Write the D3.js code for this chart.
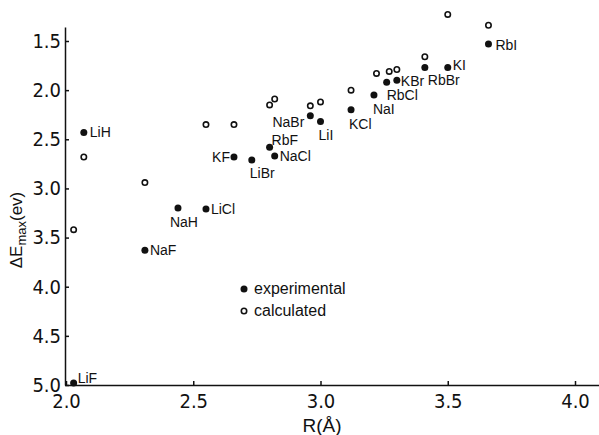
<!DOCTYPE html>
<html>
<head>
<meta charset="utf-8">
<script src="https://cdn.jsdelivr.net/npm/d3@7"></script>
<style>
  body { margin: 0; background: #fff; }
  svg text { fill: #111; }
</style>
</head>
<body>
<div id="chart"></div>
<script>
const width = 599;
const height = 435;

// experimental values: salt name, R (Å), ΔEmax (eV)
const expNames = ["LiF", "LiH", "NaF", "NaH", "LiCl", "KF", "LiBr", "RbF", "NaCl", "NaBr", "LiI", "KCl", "NaI", "RbCl", "KBr", "RbBr", "KI", "RbI"];
const expR = [2.03, 2.07, 2.31, 2.44, 2.55, 2.66, 2.73, 2.80, 2.82, 2.96, 3.00, 3.12, 3.21, 3.26, 3.30, 3.41, 3.50, 3.66];
const expE = [4.98, 2.43, 3.63, 3.20, 3.21, 2.68, 2.71, 2.58, 2.67, 2.26, 2.32, 2.20, 2.05, 1.92, 1.90, 1.77, 1.77, 1.53];

// calculated values
const calcR = [2.03, 2.07, 2.31, 2.55, 2.66, 2.80, 2.82, 2.96, 3.00, 3.12, 3.22, 3.27, 3.30, 3.41, 3.50, 3.66];
const calcE = [3.42, 2.68, 2.94, 2.35, 2.35, 2.15, 2.09, 2.16, 2.12, 2.00, 1.83, 1.81, 1.79, 1.66, 1.23, 1.34];

const xTicks = [2.0, 2.5, 3.0, 3.5, 4.0];
const yTicks = [1.5, 2.0, 2.5, 3.0, 3.5, 4.0, 4.5, 5.0];

// where each name sits next to its dot: [dx, dy, anchor]
const labelPlace = {
  LiF: [4, 0, "start"], LiH: [6, 5, "start"], NaF: [5, 5, "start"],
  NaH: [-8, 19, "start"], LiCl: [5, 5, "start"], KF: [-4, 5, "end"],
  LiBr: [-2, 18, "start"], RbF: [2, -2, "start"], NaCl: [5, 5, "start"],
  NaBr: [-6, 11, "end"], LiI: [-2, 18, "start"], KCl: [-2, 19, "start"],
  NaI: [-1, 19, "start"], RbCl: [0, 18, "start"], KBr: [4, 6, "start"],
  RbBr: [3, 17, "start"], KI: [5, 2, "start"], RbI: [7, 6, "start"]
};

const x = d3.scaleLinear().domain([2.0, 4.0]).range([66, 575]);
const y = d3.scaleLinear().domain([1.5, 5.0]).range([41, 385]);
const axisY0 = 385;
const axisX0 = 65;

const svg = d3.select("#chart")
  .append("svg")
  .attr("width", width)
  .attr("height", height)
  .style("font-family", "'Liberation Sans', Arial, sans-serif");

// axes
svg.append("g")
  .attr("transform", `translate(0,${axisY0})`)
  .call(d3.axisBottom(x.copy().domain([x.invert(axisX0), x.invert(width)]).range([axisX0, width]))
    .tickValues(xTicks)
    .tickSizeInner(-4)
    .tickSizeOuter(0)
    .tickPadding(9)
    .tickFormat(d3.format(".1f")));

svg.append("g")
  .attr("transform", `translate(${axisX0},0)`)
  .call(d3.axisLeft(y.copy().domain([y.invert(27), 5.0]).range([27, axisY0]))
    .tickValues(yTicks)
    .tickSizeInner(-4)
    .tickSizeOuter(0)
    .tickPadding(4)
    .tickFormat(d3.format(".1f")));

svg.selectAll(".domain, .tick line")
  .attr("stroke", "#111")
  .attr("stroke-width", 1.5);

svg.selectAll(".tick text")
  .style("font-family", "'Liberation Sans Narrow', 'DejaVu Sans Condensed', sans-serif")
  .style("font-size", "20px")
  .attr("fill", "#111");

// axis titles
svg.append("text")
  .attr("x", 322)
  .attr("y", 432)
  .attr("text-anchor", "middle")
  .style("font-size", "19px")
  .text("R(Å)");

const yTitle = svg.append("text")
  .attr("transform", "translate(22,230) rotate(-90)")
  .attr("text-anchor", "middle")
  .style("font-size", "17px");
yTitle.append("tspan").text("ΔE");
yTitle.append("tspan").attr("dy", 4).style("font-size", "13px").text("max");
yTitle.append("tspan").attr("dy", -4).text("(ev)");

// calculated points
svg.append("g").selectAll("circle")
  .data(calcR.map((r, i) => ({ r: r, e: calcE[i] })))
  .enter().append("circle")
  .attr("cx", d => x(d.r))
  .attr("cy", d => y(d.e))
  .attr("r", 2.7)
  .attr("fill", "none")
  .attr("stroke", "#111")
  .attr("stroke-width", 1.6);

// experimental points
const expData = expNames.map((n, i) => ({ name: n, r: expR[i], e: expE[i] }));

svg.append("g").selectAll("circle")
  .data(expData)
  .enter().append("circle")
  .attr("cx", d => x(d.r))
  .attr("cy", d => y(d.e))
  .attr("r", 3.5)
  .attr("fill", "#111");

svg.append("g").selectAll("text")
  .data(expData)
  .enter().append("text")
  .attr("x", d => x(d.r) + labelPlace[d.name][0])
  .attr("y", d => y(d.e) + labelPlace[d.name][1])
  .attr("text-anchor", d => labelPlace[d.name][2])
  .style("font-size", "14px")
  .text(d => d.name);

// legend
const legendItems = ["experimental", "calculated"];
const legend = svg.append("g").attr("transform", "translate(244,289)");

legend.selectAll("circle")
  .data(legendItems)
  .enter().append("circle")
  .attr("cx", 0)
  .attr("cy", (d, i) => i * 22)
  .attr("r", (d, i) => i === 0 ? 3.5 : 2.7)
  .attr("fill", (d, i) => i === 0 ? "#111" : "none")
  .attr("stroke", "#111")
  .attr("stroke-width", (d, i) => i === 0 ? 0 : 1.6);

legend.selectAll("text")
  .data(legendItems)
  .enter().append("text")
  .attr("x", 10)
  .attr("y", (d, i) => i * 22 + 5)
  .style("font-size", "16px")
  .text(d => d);
</script>
</body>
</html>
